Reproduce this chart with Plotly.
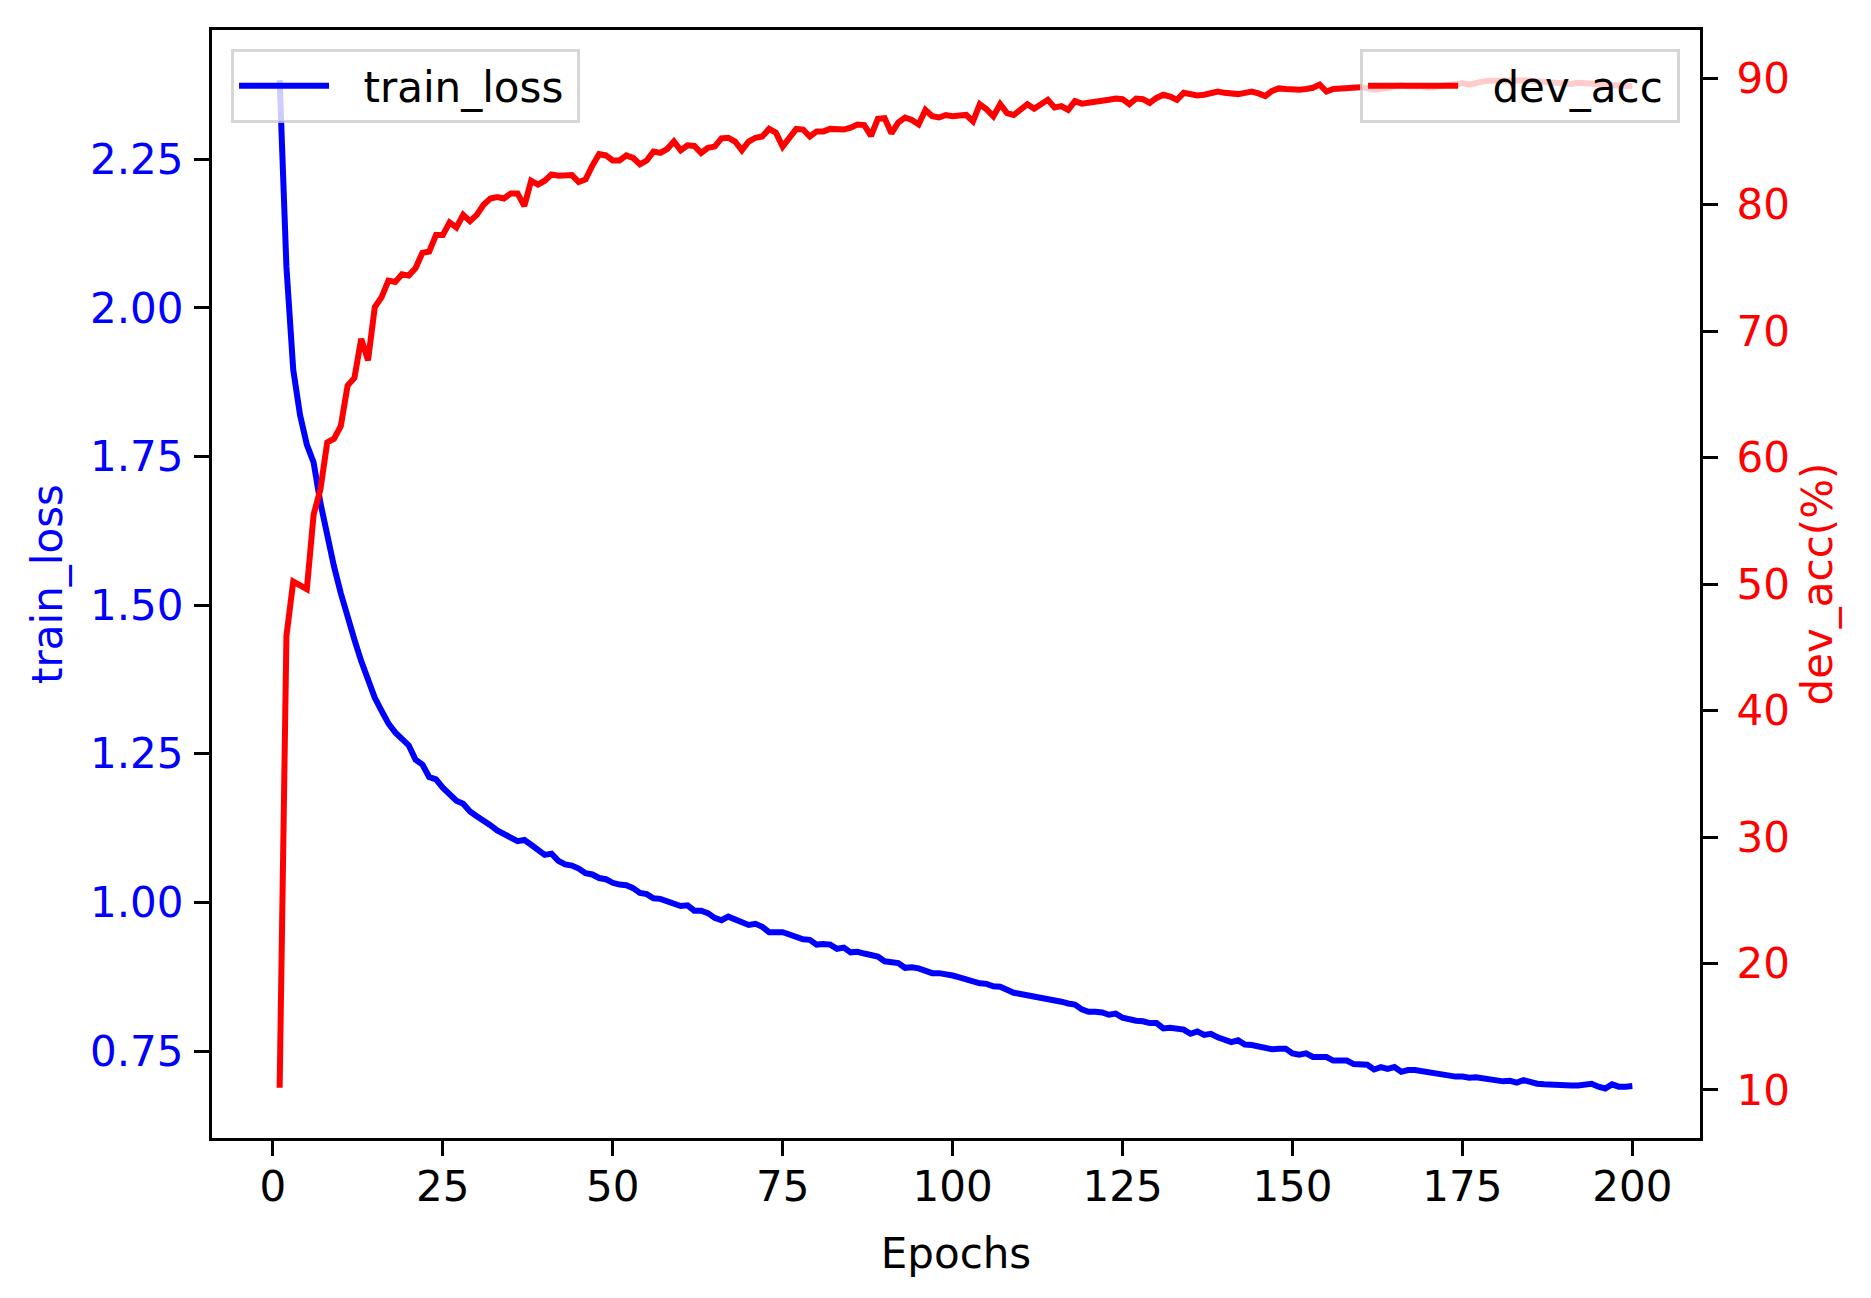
import plotly.graph_objects as go

# training curves, one value per epoch
epochs = list(range(1, 201))

train_loss = [
    2.383, 2.069, 1.896, 1.820, 1.770, 1.740, 1.672, 1.615, 1.565, 1.520,
    1.478, 1.442, 1.406, 1.376, 1.344, 1.322, 1.301, 1.286, 1.274, 1.264,
    1.240, 1.232, 1.211, 1.207, 1.193, 1.181, 1.171, 1.166, 1.153, 1.145,
    1.138, 1.130, 1.121, 1.114, 1.109, 1.103, 1.105, 1.097, 1.089, 1.080,
    1.082, 1.070, 1.064, 1.062, 1.057, 1.049, 1.047, 1.041, 1.039, 1.033,
    1.030, 1.029, 1.024, 1.016, 1.014, 1.007, 1.006, 1.002, 0.999, 0.994,
    0.995, 0.986, 0.986, 0.982, 0.974, 0.970, 0.976, 0.972, 0.966, 0.962,
    0.964, 0.959, 0.950, 0.951, 0.950, 0.946, 0.941, 0.938, 0.937, 0.929,
    0.930, 0.929, 0.922, 0.924, 0.916, 0.917, 0.914, 0.911, 0.909, 0.901,
    0.900, 0.898, 0.890, 0.891, 0.889, 0.885, 0.881, 0.881, 0.880, 0.877,
    0.874, 0.871, 0.866, 0.864, 0.863, 0.859, 0.858, 0.853, 0.848, 0.846,
    0.844, 0.843, 0.841, 0.839, 0.836, 0.833, 0.830, 0.828, 0.820, 0.816,
    0.816, 0.815, 0.811, 0.813, 0.806, 0.803, 0.801, 0.800, 0.797, 0.797,
    0.788, 0.789, 0.788, 0.786, 0.779, 0.783, 0.777, 0.779, 0.773, 0.770,
    0.765, 0.768, 0.761, 0.760, 0.758, 0.755, 0.753, 0.754, 0.754, 0.746,
    0.744, 0.746, 0.740, 0.740, 0.740, 0.734, 0.733, 0.734, 0.728, 0.728,
    0.727, 0.719, 0.723, 0.720, 0.723, 0.715, 0.718, 0.718, 0.716, 0.714,
    0.713, 0.711, 0.708, 0.707, 0.707, 0.705, 0.706, 0.704, 0.702, 0.701,
    0.699, 0.700, 0.697, 0.701, 0.697, 0.695, 0.694, 0.693, 0.694, 0.693,
    0.692, 0.692, 0.693, 0.695, 0.690, 0.687, 0.694, 0.690, 0.690, 0.691,
]

dev_acc = [
    10.18, 45.9, 50.2, 49.9, 49.6, 55.5, 57.5, 61.2, 61.5, 62.5,
    65.7, 66.3, 69.4, 67.7, 71.9, 72.7, 74.0, 73.9, 74.5, 74.4,
    75.0, 76.2, 76.3, 77.6, 77.6, 78.6, 78.2, 79.2, 78.7, 79.2,
    80.0, 80.5, 80.6, 80.5, 80.9, 80.9, 79.9, 81.9, 81.6, 81.9,
    82.4, 82.3, 82.3, 82.35, 81.8, 82.0, 83.1, 84.0, 83.9, 83.5,
    83.5, 83.9, 83.7, 83.2, 83.5, 84.2, 84.1, 84.4, 85.0, 84.3,
    84.7, 84.65, 84.1, 84.5, 84.6, 85.25, 85.3, 85.0, 84.3, 85.0,
    85.3, 85.4, 86.0, 85.7, 84.6, 85.3, 86.0, 85.95, 85.4, 85.8,
    85.8, 86.0, 85.95, 85.95, 86.1, 86.35, 86.3, 85.45, 86.8, 86.85,
    85.65, 86.5, 86.9, 86.7, 86.35, 87.5, 87.0, 86.9, 87.1, 87.0,
    87.05, 87.1, 86.6, 87.95, 87.55, 87.0, 87.95, 87.25, 87.1, 87.5,
    87.95, 87.6, 87.9, 88.3, 87.7, 87.8, 87.5, 88.2, 88.0, 88.05,
    88.2, 88.25, 88.3, 88.4, 88.35, 87.95, 88.4, 88.35, 88.05, 88.45,
    88.7, 88.55, 88.3, 88.85, 88.75, 88.65, 88.7, 88.8, 88.95, 88.85,
    88.75, 88.75, 88.85, 88.95, 88.8, 88.6, 89.0, 89.2, 89.15, 89.1,
    89.1, 89.15, 89.25, 89.5, 88.95, 89.15, 89.2, 89.25, 89.35, 89.3,
    89.2, 89.1, 89.15, 89.25, 89.45, 89.45, 89.35, 89.4, 89.35, 89.25,
    89.3, 89.4, 89.45, 89.55, 89.6, 89.5, 89.65, 89.75, 89.8, 89.8,
    89.75, 89.7, 89.8, 89.84, 89.8, 89.7, 89.7, 89.65, 89.6, 89.6,
    89.55, 89.65, 89.6, 89.55, 89.5, 89.55, 89.5, 89.45, 89.4, 89.4,
]

loss_ticks = [0.75, 1.00, 1.25, 1.50, 1.75, 2.00, 2.25]

FONT = "DejaVu Sans"
SPINE = 3.3
# extra room around the legend labels, like matplotlib's legend padding
PAD_L = "\u2002\u2009"
PAD_R = "\u2009"

fig = go.Figure()

fig.add_trace(go.Scatter(
    x=epochs, y=train_loss, mode="lines", name=PAD_L + "train_loss" + PAD_R,
    line=dict(color="#0000ff", width=6), legend="legend", showlegend=True
))
fig.add_trace(go.Scatter(
    x=epochs, y=dev_acc, mode="lines", name=PAD_L + "dev_acc" + PAD_R,
    line=dict(color="#ff0000", width=6), yaxis="y2", legend="legend2",
    showlegend=True
))

axis_common = dict(
    showgrid=False, zeroline=False, showline=True, linecolor="black",
    linewidth=SPINE, ticks="outside", ticklen=15, tickwidth=SPINE,
    tickcolor="black",
)

legend_common = dict(
    yanchor="top", y=0.983, bgcolor="rgba(255,255,255,0.8)",
    bordercolor="rgba(204,204,204,0.8)", borderwidth=3,
    font=dict(family=FONT, size=42, color="black"), itemwidth=90,
)

# page body has an 8px margin, so the figure is 8px smaller than the window
fig.update_layout(
    width=1863, height=1290,
    margin=dict(l=204, r=171, t=22, b=160, autoexpand=False),
    showlegend=True,
    paper_bgcolor="white", plot_bgcolor="white",
    font=dict(family=FONT, size=42, color="black"),
    xaxis=dict(
        range=[-8.95, 209.95], tickmode="linear", tick0=0, dtick=25,
        mirror=True, tickfont=dict(size=42, color="black"), ticklabelstandoff=-6,
        title=dict(text="Epochs", standoff=30, font=dict(size=42, color="black")),
        **axis_common
    ),
    yaxis=dict(
        range=[0.6037, 2.4675], tickmode="array", tickvals=loss_ticks,
        ticktext=[f"{v:.2f}" for v in loss_ticks], mirror=True,
        tickfont=dict(size=42, color="#0000ff"), ticklabelstandoff=2,
        title=dict(text="train_loss", standoff=15, font=dict(size=42, color="#0000ff")),
        **axis_common
    ),
    yaxis2=dict(
        range=[6.2, 93.82], tickmode="linear", tick0=10, dtick=10,
        overlaying="y", side="right",
        tickfont=dict(size=42, color="#ff0000"), ticklabelstandoff=10,
        title=dict(text="dev_acc(%)", standoff=14, font=dict(size=42, color="#ff0000")),
        **axis_common
    ),
    legend=dict(x=0.0128, xanchor="left", **legend_common),
    legend2=dict(x=0.9866, xanchor="right", **legend_common),
)

fig.write_html("out.html")
